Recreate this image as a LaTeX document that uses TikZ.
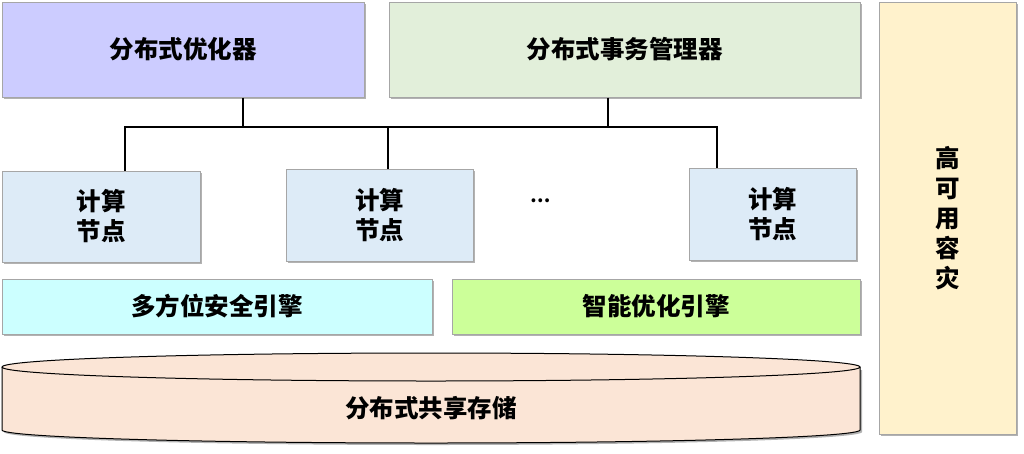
\documentclass[tikz,border=0pt]{standalone}
\usepackage{fontspec}
\setmainfont{Noto Sans CJK SC}
\usetikzlibrary{shadows}
\definecolor{optc}{HTML}{CCCCFF}
\definecolor{txc}{HTML}{E2EFDA}
\definecolor{hac}{HTML}{FFF2CC}
\definecolor{cnc}{HTML}{DDEBF7}
\definecolor{secc}{HTML}{CCFFFF}
\definecolor{smc}{HTML}{CCFF99}
\definecolor{cylc}{HTML}{FBE5D6}
\definecolor{bordc}{HTML}{A6A6A6}
\tikzset{
  box/.style={draw=bordc, line width=1pt, inner sep=0pt, align=center,
    font=\bfseries\fontsize{24.5}{30}\selectfont,
    drop shadow={shadow xshift=2pt, shadow yshift=-2pt, fill=black, opacity=0.3}},
  link/.style={draw=black, line width=1.6pt},
  busline/.style={draw=black, line width=2.6pt, line cap=rect},
  lbl/.style={font=\bfseries\fontsize{24.5}{30}\selectfont, inner sep=0pt, align=center}
}
\begin{document}
\begin{tikzpicture}[x=1pt,y=-1pt]
\useasboundingbox[fill=white] (0,0) rectangle (1024,453);
% top boxes
\node[box, fill=optc, minimum width=362pt, minimum height=95pt] (opt) at (183,49.5) {分布式优化器};
\node[box, fill=txc, minimum width=471pt, minimum height=95pt] (tx) at (624.5,49.5) {分布式事务管理器};
\node[box, fill=hac, minimum width=137pt, minimum height=432pt] (ha) at (947.5,218) {高\\可\\用\\容\\灾};
% compute nodes
\node[box, fill=cnc, minimum width=198pt, minimum height=91pt] (c1) at (101,216.5) {计算\\节点};
\node[box, fill=cnc, minimum width=187pt, minimum height=92pt] (c2) at (379.5,215) {计算\\节点};
\node[box, fill=cnc, minimum width=167pt, minimum height=92pt] (c3) at (772.5,214) {计算\\节点};
\node[lbl, font=\bfseries\fontsize{18}{20}\selectfont] (dots) at (541,201) {…};
% engines
\node[box, fill=secc, minimum width=430pt, minimum height=55pt] (sec) at (217,306.5) {多方位安全引擎};
\node[box, fill=smc, minimum width=408pt, minimum height=55pt] (smart) at (656,306.5) {智能优化引擎};
% storage cylinder
\fill[black, opacity=0.3] (4,370) -- (4,432) arc[start angle=180, end angle=0, x radius=429, y radius=13] -- (862,370) -- cycle;
\filldraw[fill=cylc, draw=black, line width=1pt] (2,367) -- (2,430) arc[start angle=180, end angle=0, x radius=429, y radius=13] -- (860,367) arc[start angle=0, end angle=-180, x radius=429, y radius=14] -- cycle;
\draw[black, line width=1pt] (2,367) arc[start angle=180, end angle=0, x radius=429, y radius=14];
\node[lbl] (store) at (431,408) {分布式共享存储};
% bus
\coordinate (busL) at (125,127);
\coordinate (busR) at (717,127);
\draw[busline] (busL) -- (busR);
\draw[link] ([xshift=60pt]opt.south) -- ([xshift=60pt]opt.south |- busL);
\draw[link] ([xshift=-16.5pt]tx.south) -- ([xshift=-16.5pt]tx.south |- busL);
\draw[link] ([xshift=24pt]c1.north) -- ([xshift=24pt]c1.north |- busL);
\draw[link] ([xshift=8.5pt]c2.north) -- ([xshift=8.5pt]c2.north |- busL);
\draw[link] ([xshift=-55.5pt]c3.north) -- ([xshift=-55.5pt]c3.north |- busL);
\end{tikzpicture}
\end{document}
